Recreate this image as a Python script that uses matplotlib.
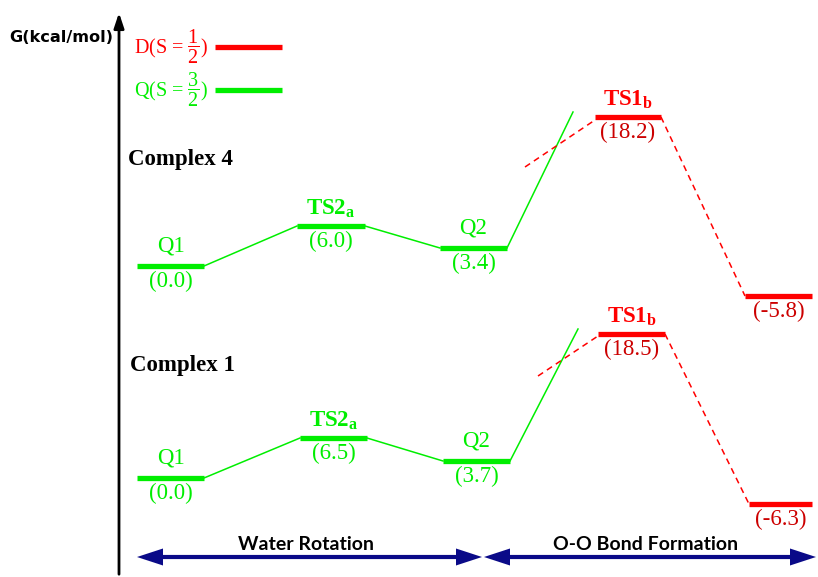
import matplotlib
matplotlib.use("Agg")
import matplotlib.pyplot as plt

plt.rcParams['mathtext.fontset'] = 'custom'
plt.rcParams['mathtext.rm'] = 'Liberation Serif'
plt.rcParams['mathtext.it'] = 'Liberation Serif:italic'
plt.rcParams['mathtext.bf'] = 'Liberation Serif:bold'

# ---------------- data ----------------
names = ["Q1", "TS2a", "Q2", "TS1b", "P"]
name_labels = ["Q1", r"$\mathbf{TS2_a}$", "Q2", r"$\mathbf{TS1_b}$", ""]
spin = ["Q", "Q", "Q", "D", "D"]

# Complex 4
c4_energy = ["(0.0)", "(6.0)", "(3.4)", "(18.2)", "(-5.8)"]
c4_x0 = [137, 297, 440, 595, 745]
c4_x1 = [204, 365, 507, 661, 812]
c4_y = [266, 226, 248, 117, 296]

# Complex 1
c1_energy = ["(0.0)", "(6.5)", "(3.7)", "(18.5)", "(-6.3)"]
c1_x0 = [137, 300, 443, 598, 749]
c1_x1 = [204, 367, 510, 665, 812]
c1_y = [478, 438, 461, 334, 504]

# crossing segments (Q2 -> beyond, dashed D before TS1b)
c4_green_ext = [(507, 248), (573, 112)]
c4_red_ext = [(525, 167), (595, 120)]
c1_green_ext = [(510, 461), (578, 329)]
c1_red_ext = [(538, 376), (598, 336)]

stages = ["Water Rotation", "O-O Bond Formation"]
stage_x0 = [137, 484]
stage_x1 = [482, 816]

GREEN = "#00ee00"
RED = "#ff0000"
DRED = "#cc0000"
NAVY = "#0a0a88"

fig = plt.figure(figsize=(8.18, 5.77), dpi=100)
ax = fig.add_axes([0, 0, 1, 1])
ax.set_xlim(0, 818)
ax.set_ylim(577, 0)
ax.axis("off")

serif = "Liberation Serif"
FS = 16.5


def draw_complex(x0, x1, ys, energies, gext, rext):
    for i in range(len(ys)):
        col = GREEN if spin[i] == "Q" else RED
        ax.plot([x0[i], x1[i]], [ys[i], ys[i]], color=col, lw=3.8,
                solid_capstyle="butt")
        xc = (x0[i] + x1[i]) / 2
        if name_labels[i]:
            bold = name_labels[i].startswith("$")
            off = 17 if bold else 20
            ax.text(xc, ys[i] - off, name_labels[i], color=col, ha="center",
                    va="center", fontsize=FS, family=serif,
                    fontweight="bold" if bold else "normal")
        vcol = GREEN if spin[i] == "Q" else DRED
        ax.text(xc, ys[i] + 15.5, energies[i], color=vcol, ha="center",
                va="center", fontsize=FS, family=serif)
    # connectors
    for i in range(2):
        ax.plot([x1[i], x0[i + 1]], [ys[i], ys[i + 1]], color=GREEN, lw=1.1)
    ax.plot([gext[0][0], gext[1][0]], [gext[0][1], gext[1][1]], color=GREEN, lw=1.1)
    ax.plot([rext[0][0], rext[1][0]], [rext[0][1], rext[1][1]], color=RED, lw=1.1,
            dashes=(4, 3))
    ax.plot([x1[3], x0[4]], [ys[3], ys[4]], color=RED, lw=1.1, dashes=(4, 3))


draw_complex(c4_x0, c4_x1, c4_y, c4_energy, c4_green_ext, c4_red_ext)
draw_complex(c1_x0, c1_x1, c1_y, c1_energy, c1_green_ext, c1_red_ext)

ax.text(128, 160, "Complex 4", fontsize=FS, family=serif, fontweight="bold",
        ha="left", va="center")
ax.text(130, 366, "Complex 1", fontsize=FS, family=serif, fontweight="bold",
        ha="left", va="center")

# y axis arrow
ax.annotate("", xy=(119, 10), xytext=(119, 577),
            arrowprops=dict(arrowstyle="-|>,head_length=0.9,head_width=0.3",
                            color="black", lw=2))
ax.text(113, 38, "G(kcal/mol)", fontsize=11.6, fontweight="bold",
        family="DejaVu Sans", ha="right", va="center")

# legend
ax.text(134, 47, r"D(S = $\dfrac{1}{2}$)", color=RED, fontsize=14.5, family=serif,
        ha="left", va="center")
ax.plot([215, 282], [47, 47], color=RED, lw=3.8, solid_capstyle="butt")
ax.text(134, 90, r"Q(S = $\dfrac{3}{2}$)", color=GREEN, fontsize=14.5, family=serif,
        ha="left", va="center")
ax.plot([215, 282], [90, 90], color=GREEN, lw=3.8, solid_capstyle="butt")

# bottom process arrows
yarr = 557
hl, hw = 26, 8.5
for s, a, b in zip(stages, stage_x0, stage_x1):
    ax.plot([a + hl - 2, b - hl + 2], [yarr, yarr], color=NAVY, lw=3,
            solid_capstyle="butt")
    ax.fill([a, a + hl, a + hl], [yarr, yarr - hw, yarr + hw], color=NAVY, lw=0)
    ax.fill([b, b - hl, b - hl], [yarr, yarr - hw, yarr + hw], color=NAVY, lw=0)
    ax.text((a + b) / 2 - 4, 544, s, fontsize=14, fontweight="bold",
            family="Lato", ha="center", va="center", color="black")

fig.savefig("out.png", dpi=100)
